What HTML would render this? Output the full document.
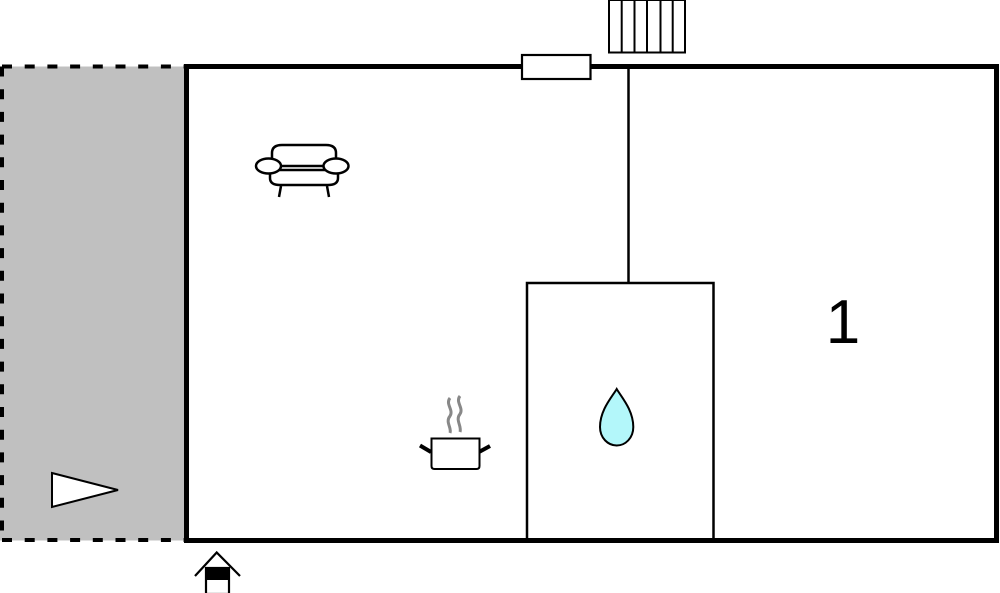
<!DOCTYPE html>
<html><head><meta charset="utf-8"><style>
html,body{margin:0;padding:0;background:#fff;}
svg{display:block;}
</style></head><body>
<svg width="1000" height="593" viewBox="0 0 1000 593" xmlns="http://www.w3.org/2000/svg">
<!-- gray terrace -->
<rect x="0" y="66.5" width="187" height="474" fill="#c0c0c0"/>
<line x1="2" y1="66.5" x2="187" y2="66.5" stroke="#000" stroke-width="4" stroke-dasharray="10,12.7"/>
<line x1="2" y1="540" x2="187" y2="540" stroke="#000" stroke-width="4" stroke-dasharray="10,12.7"/>
<line x1="2" y1="66.5" x2="2" y2="540" stroke="#000" stroke-width="4" stroke-dasharray="10,12.7"/>
<!-- triangle -->
<polygon points="52,473 118,490 52,507" fill="#fff" stroke="#000" stroke-width="2"/>
<!-- interior walls -->
<line x1="628.5" y1="66" x2="628.5" y2="283" stroke="#000" stroke-width="2.5"/>
<rect x="527" y="283" width="186.5" height="258" fill="none" stroke="#000" stroke-width="2.5"/>
<!-- outer walls -->
<rect x="186.5" y="66.5" width="810" height="474" fill="none" stroke="#000" stroke-width="5"/>
<!-- window -->
<rect x="522" y="55" width="68.5" height="24" fill="#fff" stroke="#000" stroke-width="2.2"/>
<!-- radiator -->
<g fill="none" stroke="#000" stroke-width="2">
<rect x="609" y="0" width="76" height="52.5" fill="#fff"/>
<line x1="621.7" y1="0" x2="621.7" y2="52.5"/>
<line x1="634.5" y1="0" x2="634.5" y2="52.5"/>
<line x1="647" y1="0" x2="647" y2="52.5"/>
<line x1="660.5" y1="0" x2="660.5" y2="52.5"/>
<line x1="672.7" y1="0" x2="672.7" y2="52.5"/>
</g>
<!-- sofa -->
<g fill="#fff" stroke="#000" stroke-width="2.5">
<path d="M281,186 L279,197 M327,186 L329,197" fill="none"/>
<path d="M272,166 L272,153 Q272,145 282,145 L326,145 Q336,145 336,153 L336,166" />
<path d="M270,166 L270,178 Q270,185 280,185 L328,185 Q338,185 338,178 L338,166 Z"/>
<line x1="278" y1="170" x2="330" y2="170"/>
<ellipse cx="268.5" cy="166" rx="12.5" ry="7.5"/>
<ellipse cx="336" cy="166" rx="12.5" ry="7.5"/>
</g>
<!-- pot -->
<g>
<path d="M450,398 C445,404 454,410 450,416 C445,422 452,428 450,433" fill="none" stroke="#888" stroke-width="3"/>
<path d="M460,396 C455,402 464,408 460,414 C455,420 462,426 460,432" fill="none" stroke="#888" stroke-width="3"/>
<line x1="420" y1="445.5" x2="431" y2="452" stroke="#000" stroke-width="4"/>
<line x1="479" y1="452" x2="490" y2="446" stroke="#000" stroke-width="4"/>
<path d="M431.5,438.5 L479.5,438.5 L479.5,466 Q479.5,469 476.5,469 L434.5,469 Q431.5,469 431.5,466 Z" fill="#fff" stroke="#000" stroke-width="2"/>
</g>
<!-- drop -->
<path d="M616.7,389 C612,397 600,410 600,427 C600,438 608,445.5 616.7,445.5 C625.4,445.5 633.3,438 633.3,427 C633.3,410 621.4,397 616.7,389 Z" fill="#b3f7fa" stroke="#000" stroke-width="2"/>
<!-- label -->
<text x="843" y="343" font-family="'Liberation Sans', Arial, sans-serif" font-size="62" text-anchor="middle" fill="#000">1</text>
<!-- entrance -->
<polyline points="195,576 216.7,552.5 240,576" fill="none" stroke="#000" stroke-width="2.2"/>
<rect x="206" y="568" width="23" height="12" fill="#000"/>
<rect x="206" y="568" width="23" height="26" fill="none" stroke="#000" stroke-width="2.2"/>
</svg>
</body></html>
